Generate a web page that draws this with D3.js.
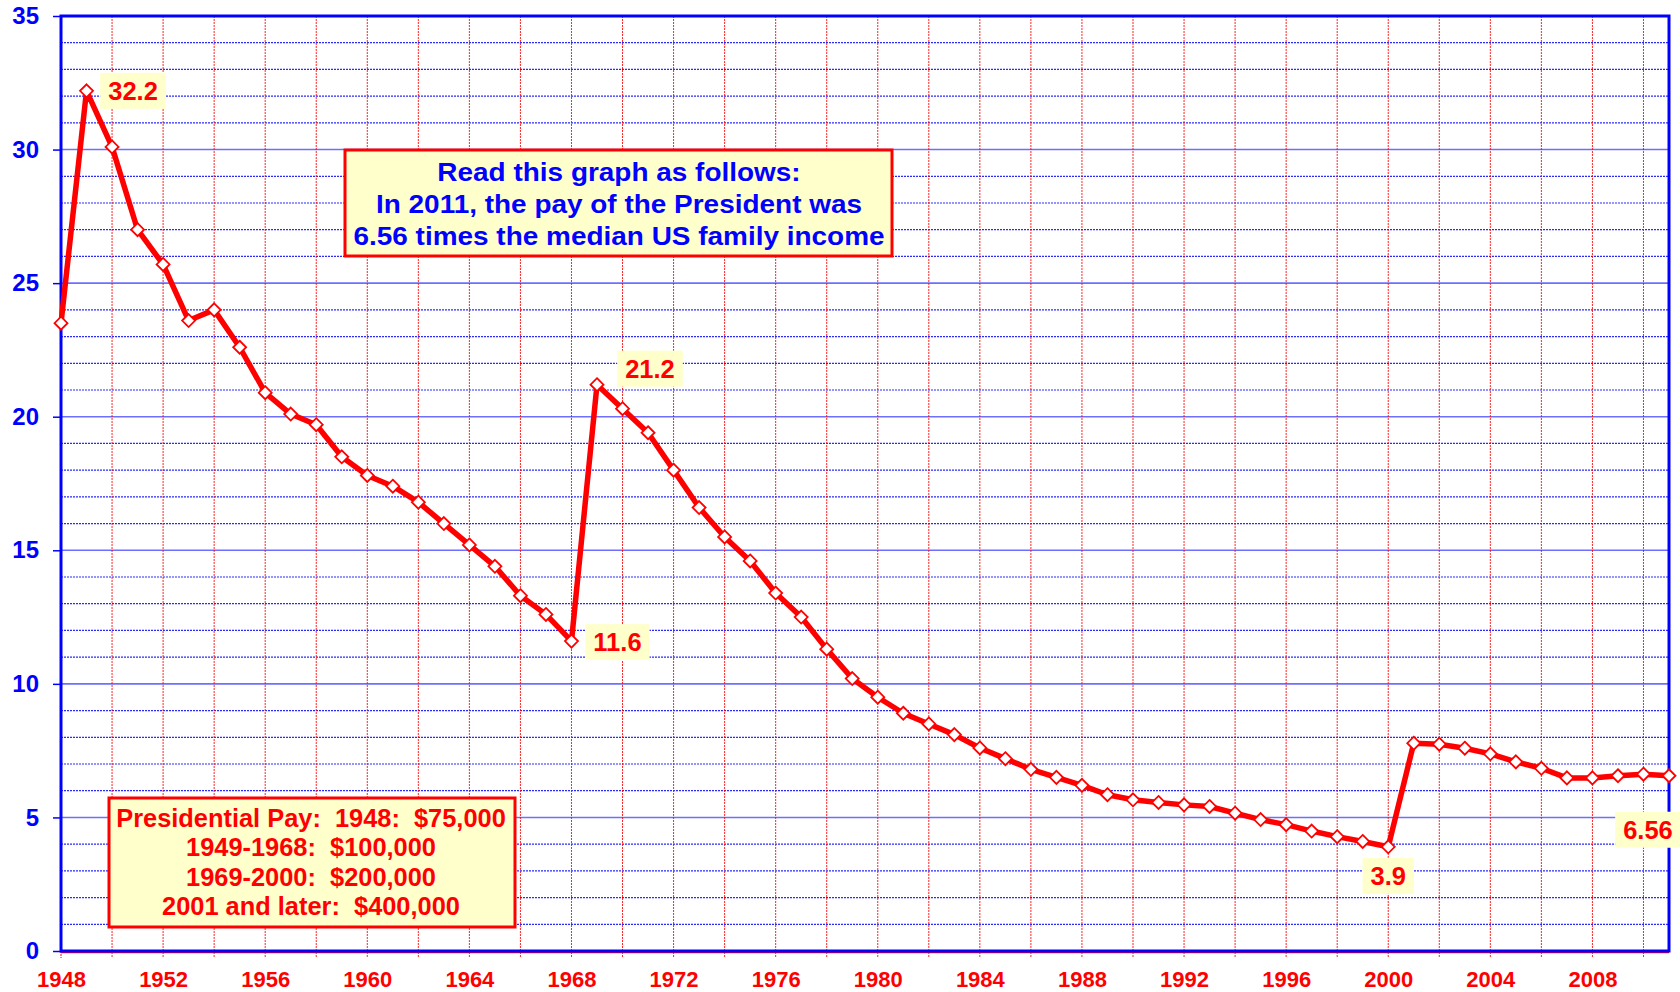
<!DOCTYPE html>
<html>
<head>
<meta charset="utf-8">
<script src="https://cdn.jsdelivr.net/npm/d3@7/dist/d3.min.js"></script>
<style>
  html, body { margin: 0; padding: 0; background: #fff; }
  svg { display: block; font-family: "Liberation Sans", Arial, sans-serif; font-weight: bold; }
  text { white-space: pre; }
</style>
</head>
<body>
<svg id="chart" width="1680" height="992"></svg>
<script>
// ---- data ----
const years = [1948,1949,1950,1951,1952,1953,1954,1955,1956,1957,1958,1959,
  1960,1961,1962,1963,1964,1965,1966,1967,1968,1969,1970,1971,1972,1973,1974,
  1975,1976,1977,1978,1979,1980,1981,1982,1983,1984,1985,1986,1987,1988,1989,
  1990,1991,1992,1993,1994,1995,1996,1997,1998,1999,2000,2001,2002,2003,2004,
  2005,2006,2007,2008,2009,2010,2011];
const ratio = [23.5,32.2,30.1,27.0,25.7,23.6,24.0,22.6,20.9,20.1,19.7,18.5,
  17.8,17.4,16.8,16.0,15.2,14.4,13.3,12.6,11.6,21.2,20.3,19.4,18.0,16.6,15.5,
  14.6,13.4,12.5,11.3,10.2,9.5,8.9,8.5,8.1,7.6,7.2,6.8,6.5,6.2,5.85,
  5.66,5.56,5.47,5.41,5.16,4.92,4.73,4.49,4.28,4.1,3.9,7.78,7.74,7.59,7.38,
  7.08,6.84,6.48,6.48,6.56,6.62,6.56];
const xTickLabels = [1948,1952,1956,1960,1964,1968,1972,1976,1980,1984,1988,1992,1996,2000,2004,2008];
const xGridYears = [1950,1952,1954,1956,1958,1960,1962,1964,1966,1968,1970,1972,1974,1976,1978,1980,1982,1984,1986,1988,1990,1992,1994,1996,1998,2000,2002,2004,2006,2008,2010];
const yTickLabels = [0,5,10,15,20,25,30,35];
const yMinorValues = [1,2,3,4,6,7,8,9,11,12,13,14,16,17,18,19,21,22,23,24,26,27,28,29,31,32,33,34];
const pointLabelYears = [1949,1969,1968,2000,2011];
const pointLabelTexts = ["32.2","21.2","11.6","3.9","6.56"];
const noteLines = ["Read this graph as follows:","In 2011, the pay of the President was","6.56 times the median US family income"];
const payLines = ["Presidential Pay:  1948:  $75,000","1949-1968:  $100,000","1969-2000:  $200,000","2001 and later:  $400,000"];

// ---- layout ----
const L = 61, R = 1669, T = 16, B = 951;
const x = d3.scaleLinear().domain([1948, 2011]).range([L, R]);
const y = d3.scaleLinear().domain([0, 35]).range([B, T]);
const svg = d3.select("#chart");
const RED = "#ff0000", BLUE = "#0000ff", YEL = "#ffffcc";
const FONT = "Liberation Sans, Arial, sans-serif";

// minor horizontal grid
svg.append("g").selectAll("line").data(yMinorValues).join("line")
  .attr("x1", L).attr("x2", R).attr("y1", d => y(d)).attr("y2", d => y(d))
  .attr("stroke", "#2a2aff").attr("stroke-width", 1.2).attr("stroke-dasharray", "2,1");
// major horizontal grid
svg.append("g").selectAll("line").data(yTickLabels.filter(d => d > 0 && d < 35)).join("line")
  .attr("x1", L).attr("x2", R).attr("y1", d => y(d)).attr("y2", d => y(d))
  .attr("stroke", "#6f6fff").attr("stroke-width", 1.6);
// vertical grid (red dotted), extends below axis as ticks
svg.append("g").selectAll("line").data(xGridYears).join("line")
  .attr("x1", d => x(d)).attr("x2", d => x(d)).attr("y1", T).attr("y2", B + 7)
  .attr("stroke", RED).attr("stroke-width", 1).attr("stroke-dasharray", "2,1").attr("opacity", 0.85);
svg.append("line").attr("x1", L).attr("x2", L).attr("y1", B).attr("y2", B + 7)
  .attr("stroke", RED).attr("stroke-width", 1).attr("stroke-dasharray", "2,1");

// x axis
const xAxis = d3.axisBottom(x).tickValues(xTickLabels).tickFormat(d3.format("d")).tickSize(0).tickPadding(20);
const gx = svg.append("g").attr("transform", `translate(0,${B})`).call(xAxis);
gx.select(".domain").remove();
gx.selectAll("text").attr("fill", RED).attr("font-size", 22).attr("font-weight", "bold")
  .attr("font-family", FONT);

// y axis
const yAxis = d3.axisLeft(y).tickValues(yTickLabels).tickSize(8).tickPadding(14);
const gy = svg.append("g").attr("transform", `translate(${L},0)`).call(yAxis);
gy.select(".domain").remove();
gy.selectAll("line").attr("stroke", BLUE).attr("stroke-width", 1.5);
gy.selectAll("text").attr("fill", BLUE).attr("font-size", 24).attr("font-weight", "bold")
  .attr("font-family", FONT);

// frame
svg.append("line").attr("x1", L).attr("x2", R).attr("y1", B + 1.5).attr("y2", B + 1.5).attr("stroke", RED).attr("stroke-width", 1.5);
svg.append("rect").attr("x", L).attr("y", T).attr("width", R - L).attr("height", B - T)
  .attr("fill", "none").attr("stroke", BLUE).attr("stroke-width", 3);

// text boxes
function textBox(lines, cx, firstBaseline, lineH, fontSize, sx, color, rect) {
  svg.append("rect").attr("x", rect[0]).attr("y", rect[1]).attr("width", rect[2]).attr("height", rect[3])
    .attr("fill", YEL).attr("stroke", RED).attr("stroke-width", 3);
  svg.append("g").attr("transform", `translate(${cx},0) scale(${sx},1)`)
    .selectAll("text").data(lines).join("text")
    .attr("x", 0).attr("y", (d, i) => firstBaseline + i * lineH)
    .attr("text-anchor", "middle").attr("font-size", fontSize).attr("fill", color)
    .text(d => d);
}
textBox(noteLines, 619, 181, 32, 26, 1.075, BLUE, [345, 150, 547, 106]);
textBox(payLines, 311, 827, 29.3, 25.4, 1, RED, [109, 798, 406, 129]);

// line
svg.append("path").datum(years.map((yr, i) => [yr, ratio[i]]))
  .attr("d", d3.line().x(d => x(d[0])).y(d => y(d[1])))
  .attr("fill", "none").attr("stroke", RED).attr("stroke-width", 5.5).attr("stroke-linejoin", "round");
// markers
svg.append("g").selectAll("path").data(years.map((yr, i) => [yr, ratio[i]])).join("path")
  .attr("transform", d => `translate(${x(d[0])},${y(d[1])})`)
  .attr("d", "M0,-6.5L6.5,0L0,6.5L-6.5,0Z")
  .attr("fill", "#fff").attr("stroke", RED).attr("stroke-width", 1.8);

// point labels
const offsets = [[46.5, 0], [53, -16], [46, 1], [0, 29], [-21, 54]];
pointLabelYears.forEach((yr, i) => {
  const v = ratio[years.indexOf(yr)];
  const cx = x(yr) + offsets[i][0], cy = y(v) + offsets[i][1];
  const g = svg.append("g");
  const rect = g.append("rect").attr("fill", YEL);
  const t = g.append("text").attr("x", cx).attr("y", cy + 9).attr("text-anchor", "middle")
    .attr("font-size", 25.5).attr("fill", RED).text(pointLabelTexts[i]);
  const w = t.node().getComputedTextLength() + 16;
  rect.attr("x", cx - w / 2).attr("y", cy - 18).attr("width", w).attr("height", 36);
});
</script>
</body>
</html>
